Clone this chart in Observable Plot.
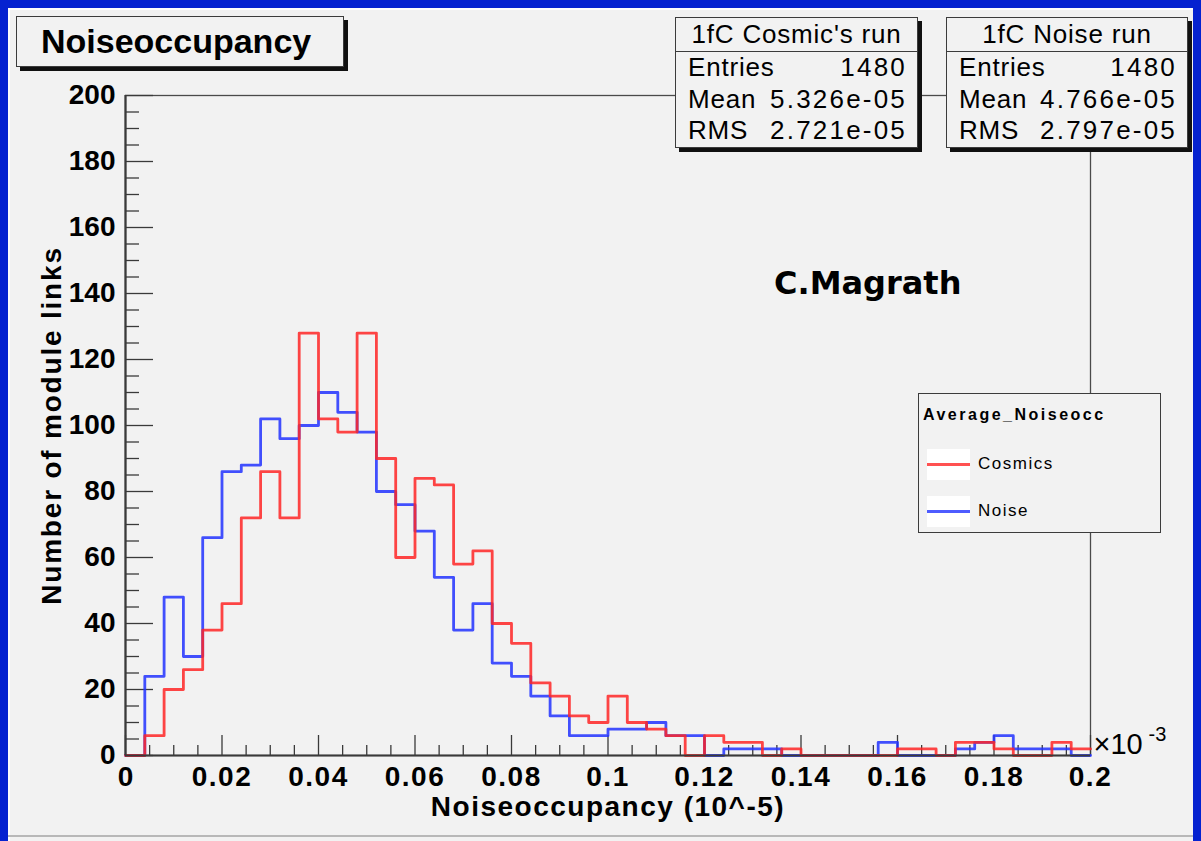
<!DOCTYPE html>
<html>
<head>
<meta charset="utf-8">
<script src="https://cdn.jsdelivr.net/npm/d3@7"></script>
<script src="https://cdn.jsdelivr.net/npm/@observablehq/plot@0.6"></script>
<style>
html, body { margin: 0; padding: 0; }
body { width: 1201px; height: 841px; background: #0522d0; position: relative; overflow: hidden;
  font-family: "Liberation Sans", Arial, sans-serif; color: #000; }
#pad { position: absolute; left: 8px; top: 8px; width: 1185px; height: 833px; background: #f2f2f2;
  box-sizing: border-box; border-top: 2px solid #fdfdfd; border-left: 2px solid #fdfdfd; }
#padline { position: absolute; left: 8px; top: 835px; width: 1185px; height: 2px; background: #b8b8b8; }
#chart { position: absolute; left: 0; top: 0; z-index: 1; }
.box { position: absolute; background: #f2f2f2; border: 1.5px solid #3c3c3c; box-sizing: border-box; z-index: 2; }
.shadow { box-shadow: 4px 4px 0 #111; }
.title { left: 16px; top: 16px; width: 328px; height: 51px; font-weight: bold; font-size: 34px;
  line-height: 48px; padding-left: 24px; }
.stat .hdr { height: 33px; line-height: 33px; text-align: center; font-size: 26px; letter-spacing: 0.8px;
  border-bottom: 1.5px solid #3c3c3c; }
.stat .row { height: 31.5px; line-height: 31.5px; font-size: 26px; display: flex; justify-content: space-between;
  padding: 0 10px 0 12px; }
.stat .row span:first-child { letter-spacing: 0.8px; }
.stat .row span:last-child { letter-spacing: 2.2px; }
.legend { left: 918px; top: 393px; width: 243px; height: 140px; }
.legend .lt { position: absolute; left: 4px; top: 12px; font-weight: bold; font-size: 16px; letter-spacing: 2.5px; }
.legend .sw { position: absolute; left: 8px; width: 43px; height: 31px; background: #fff; }
.legend .sw div { position: absolute; left: 0; right: 0; top: 14px; height: 3px; }
.legend .lab { position: absolute; left: 59px; font-size: 17px; letter-spacing: 1.5px; }
#sig { position: absolute; left: 774px; top: 264px; font-family: "DejaVu Sans", sans-serif; font-weight: bold;
  font-size: 32px; z-index: 2; }
</style>
</head>
<body>
<div id="pad"></div>
<div id="padline"></div>
<div id="chart"></div>
<script>
// ---- data ----
const histTitle = "Noiseoccupancy";
const xLabel = "Noiseoccupancy (10^-5)";
const yLabel = "Number of module links";
const binWidth = 0.004;           // 50 bins over [0, 0.2]
const cosmics = [0,6,20,26,38,46,72,86,72,128, 102,98,128,90,60,84,82,58,62,40,
                 34,22,18,12,10,18,10,8,6,0, 6,4,4,0,2,0,0,0,0,0, 2,2,0,4,4,2,0,0,4,2];
const noise   = [0,24,48,30,66,86,88,102,96,100, 110,104,98,80,76,68,54,38,46,28,
                 24,18,12,6,6,8,8,10,6,6, 0,2,2,2,0,0,0,0,0,4, 0,0,0,2,4,6,2,2,2,0];
const seriesNames = ["Cosmics", "Noise"];
const seriesColors = ["#ff2626", "#2233ff"];
const xTicks = [0, 0.02, 0.04, 0.06, 0.08, 0.1, 0.12, 0.14, 0.16, 0.18, 0.2];
const xTickLabels = ["0", "0.02", "0.04", "0.06", "0.08", "0.1", "0.12", "0.14", "0.16", "0.18", "0.2"];
const yTicks = [0, 20, 40, 60, 80, 100, 120, 140, 160, 180, 200];
const xExponent = ["\u00d710", "-3"];
const statTitles = ["1fC Cosmic's run", "1fC Noise run"];
const statEntries = ["1480", "1480"];
const statMeans = ["5.326e-05", "4.766e-05"];
const statRMS = ["2.721e-05", "2.797e-05"];
const legendTitle = "Average_Noiseocc";
const author = "C.Magrath";

// ---- build step outlines ----
function steps(vals, name) {
  const n = vals.length;
  const pts = vals.map((v, i) => ({x: i * binWidth, y: v, s: name}));
  pts.push({x: n * binWidth, y: vals[n - 1], s: name});
  return pts;
}
const cosSteps = steps(cosmics, seriesNames[0]);
const noiSteps = steps(noise, seriesNames[1]);

const xMinor = d3.range(0, 41).map(i => i * 0.005).filter((d, i) => i % 4 !== 0);
const yMinor = d3.range(0, 41).map(i => i * 5).filter(d => d % 20 !== 0);

const W = 1201, H = 841, mL = 125, mR = 111, mT = 95, mB = 86;
const iw = W - mL - mR, ih = H - mT - mB;
const axisColor = "#3a3a3a";

const chart = Plot.plot({
  width: W, height: H,
  marginLeft: mL, marginRight: mR, marginTop: mT, marginBottom: mB,
  style: {background: "transparent", fontFamily: "'Liberation Sans', Arial, sans-serif", color: "#000"},
  x: {domain: [0, 0.2]},
  y: {domain: [0, 200]},
  marks: [
    Plot.frame({stroke: "#4a4a4a", strokeWidth: 1.3}),
    Plot.tickX(xMinor, {x: d => d, insetTop: ih - 10, stroke: axisColor, strokeWidth: 1.3}),
    Plot.tickX(xTicks, {x: d => d, insetTop: ih - 20, stroke: axisColor, strokeWidth: 1.3}),
    Plot.tickY(yMinor, {y: d => d, insetRight: iw - 14, stroke: axisColor, strokeWidth: 1.3}),
    Plot.tickY(yTicks, {y: d => d, insetRight: iw - 28, stroke: axisColor, strokeWidth: 1.3}),
    Plot.lineY(noiSteps, {x: "x", y: "y", curve: "step-after", stroke: seriesColors[1], strokeWidth: 2.8, strokeOpacity: 0.85}),
    Plot.lineY(cosSteps, {x: "x", y: "y", curve: "step-after", stroke: seriesColors[0], strokeWidth: 2.8, strokeOpacity: 0.85}),
    Plot.ruleY([0], {stroke: axisColor, strokeWidth: 2.2}),
    Plot.ruleX([0], {stroke: axisColor, strokeWidth: 2.2}),
    Plot.axisX({ticks: xTicks, tickSize: 0, tickPadding: 11, fontSize: 28, fontWeight: "bold",
      tickFormat: d => xTickLabels[xTicks.indexOf(d)], label: null}),
    Plot.axisY({ticks: yTicks, tickSize: 0, tickPadding: 10, fontSize: 28, fontWeight: "bold",
      tickFormat: d => String(d), label: null}),
    Plot.text([xLabel], {frameAnchor: "bottom", lineAnchor: "middle", dy: 52, fontSize: 28, fontWeight: "bold", text: d => d}),
    Plot.text([yLabel], {frameAnchor: "left", textAnchor: "middle", lineAnchor: "middle", dx: -73, rotate: -90, fontSize: 28, fontWeight: "bold", text: d => d}),
    Plot.text([xExponent[0]], {frameAnchor: "bottom-right", dx: 3, dy: -11, textAnchor: "start", lineAnchor: "middle", fontSize: 29, text: d => d}),
    Plot.text([xExponent[1]], {frameAnchor: "bottom-right", dx: 58, dy: -21, textAnchor: "start", lineAnchor: "middle", fontSize: 20, text: d => d})
  ]
});
document.getElementById("chart").appendChild(chart);

// wider glyph spacing like the original bitmap fonts
d3.select(chart).selectAll("text").each(function() {
  const s = this.textContent;
  if (s === xLabel) d3.select(this).attr("letter-spacing", "1.5px");
  else if (s === yLabel) d3.select(this).attr("letter-spacing", "1.8px");
  else if (xTickLabels.includes(s) && s.length > 1) d3.select(this).attr("letter-spacing", "1.5px");
});

// ---- overlays: title, stats, legend, author ----
function el(tag, cls, parent, text) {
  const e = document.createElement(tag);
  if (cls) e.className = cls;
  if (text != null) e.textContent = text;
  (parent || document.body).appendChild(e);
  return e;
}
el("div", "box shadow title", null, histTitle);

const statLefts = [675, 946];
statTitles.forEach((name, i) => {
  const b = el("div", "box shadow stat");
  b.style.left = statLefts[i] + "px"; b.style.top = "17px";
  b.style.width = (i === 0 ? 243 : 242) + "px"; b.style.height = "131px";
  el("div", "hdr", b, name);
  [["Entries", statEntries[i]], ["Mean", statMeans[i]], ["RMS", statRMS[i]]].forEach(([k, v]) => {
    const r = el("div", "row", b);
    el("span", null, r, k); el("span", null, r, v);
  });
});

const lg = el("div", "box legend");
el("div", "lt", lg, legendTitle);
seriesNames.forEach((name, i) => {
  const top = [55, 102][i];
  const sw = el("div", "sw", lg); sw.style.top = top + "px";
  const ln = el("div", null, sw); ln.style.background = seriesColors[i]; ln.style.opacity = 0.8;
  const lab = el("div", "lab", lg, name); lab.style.top = (top + 5) + "px";
});

el("div", null, null, author).id = "sig";
</script>
</body>
</html>
